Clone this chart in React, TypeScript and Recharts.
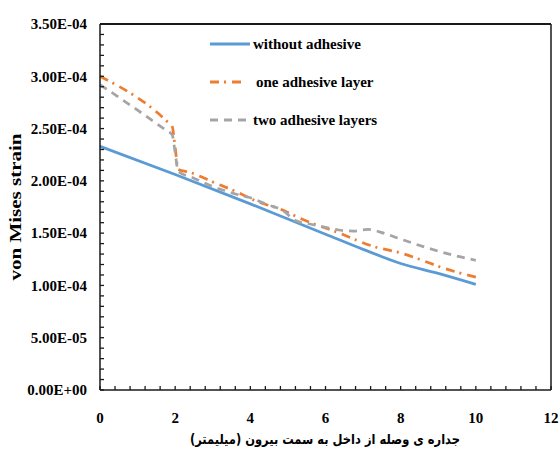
import { LineChart, Line, XAxis, YAxis } from 'recharts';

const COLORS = {
  none: '#5B9BD5',
  one: '#ED7D31',
  two: '#A5A5A5',
  axis: '#1a1a1a',
  text: '#000000',
};

const FONT = '"Liberation Serif", "Times New Roman", serif';

// without adhesive
const noneX = [0, 2, 4, 5, 6, 7, 8, 9, 10];
const noneY = [2.33e-4, 2.06e-4, 1.78e-4, 1.635e-4, 1.49e-4, 1.345e-4, 1.21e-4, 1.115e-4, 1.01e-4];

// one adhesive layer
const oneX = [0, 1.78, 1.92, 2.0, 2.08, 2.4, 3, 3.6, 4.2, 4.8, 5.4, 6.3, 7.3, 8, 8.5, 9.1, 10];
const oneY = [
  3.0e-4, 2.57e-4, 2.52e-4, 2.32e-4, 2.11e-4, 2.08e-4, 1.99e-4, 1.9e-4, 1.8e-4, 1.73e-4, 1.63e-4,
  1.51e-4, 1.37e-4, 1.31e-4, 1.25e-4, 1.17e-4, 1.08e-4,
];

// two adhesive layers
const twoX = [0, 1.73, 1.92, 2.0, 2.08, 2.47, 2.9, 3.65, 4.07, 4.47, 4.85, 5.2, 5.55, 6.0, 6.35, 6.75, 7.13, 7.55, 7.95, 8.7, 9.5, 10];
const twoY = [
  2.92e-4, 2.49e-4, 2.44e-4, 2.27e-4, 2.09e-4, 2.03e-4, 1.96e-4, 1.87e-4, 1.83e-4, 1.77e-4, 1.72e-4,
  1.62e-4, 1.59e-4, 1.555e-4, 1.53e-4, 1.52e-4, 1.535e-4, 1.5e-4, 1.45e-4, 1.36e-4, 1.28e-4, 1.24e-4,
];

// labelled ticks
const xTicks = [0, 2, 4, 6, 8, 10, 12];
const yTicks = [0, 0.5e-4, 1e-4, 1.5e-4, 2e-4, 2.5e-4, 3e-4, 3.5e-4];
// every tick mark, labelled or not
const xMinor = [
  0, 0.4, 0.8, 1.2, 1.6, 2, 2.4, 2.8, 3.2, 3.6, 4, 4.4, 4.8, 5.2, 5.6, 6, 6.4, 6.8, 7.2, 7.6, 8,
  8.4, 8.8, 9.2, 9.6, 10, 10.4, 10.8, 11.2, 11.6, 12,
];
const yMinor = [
  0, 0.1e-4, 0.2e-4, 0.3e-4, 0.4e-4, 0.5e-4, 0.6e-4, 0.7e-4, 0.8e-4, 0.9e-4, 1e-4, 1.1e-4, 1.2e-4,
  1.3e-4, 1.4e-4, 1.5e-4, 1.6e-4, 1.7e-4, 1.8e-4, 1.9e-4, 2e-4, 2.1e-4, 2.2e-4, 2.3e-4, 2.4e-4,
  2.5e-4, 2.6e-4, 2.7e-4, 2.8e-4, 2.9e-4, 3e-4, 3.1e-4, 3.2e-4, 3.3e-4, 3.4e-4, 3.5e-4,
];

const series = [
  { key: 'none', name: 'without adhesive', xs: noneX, ys: noneY, color: COLORS.none, dash: undefined },
  { key: 'one', name: 'one adhesive layer', xs: oneX, ys: oneY, color: COLORS.one, dash: '9 5 2 6' },
  { key: 'two', name: 'two adhesive layers', xs: twoX, ys: twoY, color: COLORS.two, dash: '8 6' },
];

const TICK_LEN = 4;

// recharts draws tick marks outside the plot; Excel puts them inside
const css = `
body { margin: 0; }
.recharts-cartesian-axis-tick-line { stroke: ${COLORS.axis}; stroke-width: 1.3px; }
.recharts-xAxis .recharts-cartesian-axis-tick-line { transform: translateY(-${TICK_LEN}px); }
.recharts-yAxis .recharts-cartesian-axis-tick-line { transform: translateX(${TICK_LEN}px); }
`;

function toPoints(xs: number[], ys: number[]) {
  return xs.map((x, i) => ({ x, v: ys[i] }));
}

const isMajor = (list: number[], v: number) => list.some((t) => Math.abs(t - v) < 1e-9);

function sci(v: number) {
  if (!isMajor(yTicks, v)) return '';
  if (v === 0) return '0.00E+00';
  const e = Math.floor(Math.log10(v) + 1e-9);
  const m = v / Math.pow(10, e);
  const sign = e < 0 ? '-' : '+';
  const pow = String(Math.abs(e)).padStart(2, '0');
  return `${m.toFixed(2)}E${sign}${pow}`;
}

const xLabel = (v: number) => (isMajor(xTicks, v) ? String(v) : '');

const tickFont = { fontFamily: FONT, fontWeight: 'bold', fontSize: 15, fill: COLORS.text };

function LegendBox() {
  return (
    <div
      style={{
        position: 'absolute',
        left: 209,
        top: 25,
        fontFamily: FONT,
        fontWeight: 'bold',
        fontSize: 15,
        color: COLORS.text,
      }}
    >
      {series.map((s) => (
        <div key={s.key} style={{ display: 'flex', alignItems: 'center', height: 38 }}>
          <svg width={43} height={6} style={{ marginRight: 1 }}>
            <line
              x1={1}
              y1={3}
              x2={s.key === 'one' ? 33 : 41}
              y2={3}
              stroke={s.color}
              strokeWidth={3}
              strokeDasharray={s.dash}
            />
          </svg>
          <span style={{ marginLeft: s.key === 'one' ? 3 : 0 }}>{s.name}</span>
        </div>
      ))}
    </div>
  );
}

export default function App() {
  return (
    <div style={{ position: 'relative', width: 560, height: 459, background: '#fff' }}>
      <style>{css}</style>
      <LineChart width={560} height={459} margin={{ top: 24, right: 9, bottom: 0, left: 0 }}>
        <XAxis
          dataKey="x"
          type="number"
          domain={[0, 12]}
          ticks={xMinor}
          interval={0}
          tickFormatter={xLabel}
          height={69}
          tickSize={TICK_LEN}
          tickMargin={18}
          stroke={COLORS.axis}
          axisLine={{ stroke: COLORS.axis, strokeWidth: 1.5 }}
          tickLine
          tick={tickFont}
        />
        <XAxis
          xAxisId="top"
          orientation="top"
          type="number"
          domain={[0, 12]}
          ticks={xTicks}
          mirror
          height={1}
          tick={false}
          tickLine={false}
          axisLine={{ stroke: COLORS.axis, strokeWidth: 2 }}
        />
        <YAxis
          type="number"
          domain={[0, 3.5e-4]}
          ticks={yMinor}
          interval={0}
          width={100}
          tickSize={TICK_LEN}
          tickMargin={9}
          tickFormatter={sci}
          stroke={COLORS.axis}
          axisLine={{ stroke: COLORS.axis, strokeWidth: 1.5 }}
          tickLine
          tick={tickFont}
        />
        <YAxis
          yAxisId="right"
          orientation="right"
          type="number"
          domain={[0, 3.5e-4]}
          ticks={yTicks}
          mirror
          width={1}
          tick={false}
          tickLine={false}
          axisLine={{ stroke: COLORS.axis, strokeWidth: 1.5 }}
        />
        {series.map((s) => (
          <Line
            key={s.key}
            data={toPoints(s.xs, s.ys)}
            dataKey="v"
            name={s.name}
            type="monotone"
            stroke={s.color}
            strokeWidth={2.75}
            strokeDasharray={s.dash}
            dot={false}
            isAnimationActive={false}
          />
        ))}
      </LineChart>
      <LegendBox />
      <div
        style={{
          position: 'absolute',
          left: 16,
          top: 207,
          transform: 'translate(-50%, -50%) rotate(-90deg) scaleY(0.8)',
          whiteSpace: 'nowrap',
          fontFamily: FONT,
          fontWeight: 'bold',
          fontSize: 21,
          color: COLORS.text,
        }}
      >
        von Mises strain
      </div>
      <div
        style={{
          position: 'absolute',
          left: 325,
          top: 439,
          transform: 'translate(-50%, -50%) scaleX(0.85)',
          whiteSpace: 'nowrap',
          direction: 'rtl',
          fontFamily: '"DejaVu Sans", "Noto Sans", sans-serif',
          fontWeight: 'bold',
          fontSize: 13.5,
          color: COLORS.text,
        }}
      >
        جداره ی وصله از داخل به سمت بیرون (میلیمتر)
      </div>
    </div>
  );
}
